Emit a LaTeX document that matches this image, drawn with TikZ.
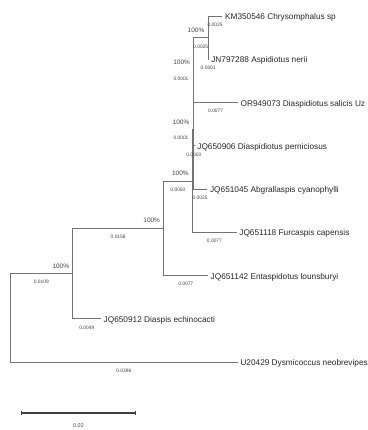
\documentclass[tikz,border=0pt]{standalone}
\usepackage{fontspec}
\setmainfont{Liberation Sans}
\usetikzlibrary{calc,arrows.meta}
\tikzset{
  branch/.style={draw=black!55, line width=0.8bp},
  leaf/.style={anchor=west, inner xsep=2.6bp, inner ysep=0pt, text height=0.716em, text depth=0pt, font=\fontsize{8.3}{9}\selectfont, text=black!85},
  boot/.style={anchor=south east, inner sep=0pt, text depth=0pt, xshift=-3.4bp, yshift=5.3bp, font=\fontsize{6.5}{7}\selectfont, text=black!75},
  blen/.style={anchor=north, inner sep=0pt, yshift=-3.3bp, text height=0.7em, font=\fontsize{4.9}{5.5}\selectfont, text=black!75},
  scalebar/.style={draw=black!75, line width=1.2bp, {Bar[width=4bp]}-{Bar[width=4bp]}}
}
\begin{document}
\begin{tikzpicture}[x=1bp,y=-1bp]
\useasboundingbox (0,0) rectangle (368,430);
% internal nodes
\coordinate (root) at (10,317.7);
\coordinate (A) at (72.7,273.5);
\coordinate (B) at (163.6,228.2);
\coordinate (C) at (192.3,180.9);
\coordinate (Q) at (192.9,129.5);
\coordinate (P) at (193.5,70.1);
\coordinate (CA) at (207.9,37.6);
% leaf ends
\coordinate (l1) at (222.3,16);
\coordinate (l2) at (208.5,59.25);
\coordinate (l3) at (237.8,102.5);
\coordinate (l4) at (194.6,145.75);
\coordinate (l5) at (207.3,189);
\coordinate (l6) at (236.6,232.25);
\coordinate (l7) at (207.9,275.5);
\coordinate (l8) at (100.9,318.75);
\coordinate (l9) at (237.7,362);
% branches
\draw[branch] (root) |- (A);
\draw[branch] (root) |- (l9);
\draw[branch] (A) |- (B);
\draw[branch] (A) |- (l8);
\draw[branch] (B) |- (C);
\draw[branch] (B) |- (l7);
\draw[branch] (C) |- (Q);
\draw[branch] (C) |- (l6);
\draw[branch] (Q) |- (P);
\draw[branch] (Q) |- (l4);
\draw[branch] (Q) |- (l5);
\draw[branch] (P) |- (CA);
\draw[branch] (P) |- (l3);
\draw[branch] (CA) |- (l1);
\draw[branch] (CA) |- (l2);
% leaf labels
\node[leaf] (t1) at (l1) {KM350546 Chrysomphalus sp};
\node[leaf] (t2) at (l2) {JN797288 Aspidiotus nerii};
\node[leaf] (t3) at (l3) {OR949073 Diaspidiotus salicis Uz};
\node[leaf] (t4) at (l4) {JQ650906 Diaspidiotus perniciosus};
\node[leaf] (t5) at (l5) {JQ651045 Abgrallaspis cyanophylli};
\node[leaf] (t6) at (l6) {JQ651118 Furcaspis capensis};
\node[leaf] (t7) at (l7) {JQ651142 Entaspidotus lounsburyi};
\node[leaf] (t8) at (l8) {JQ650912 Diaspis echinocacti};
\node[leaf] (t9) at (l9) {U20429 Dysmicoccus neobrevipes};
% bootstrap values
\node[boot] (bA) at (A) {100\%};
\node[boot] (bB) at (B) {100\%};
\node[boot] (bC) at (C) {100\%};
\node[boot] (bQ) at (Q) {100\%};
\node[boot] (bP) at (P) {100\%};
\node[boot] (bCA) at (CA) {100\%};
% branch lengths
\node[blen] (eA) at ($(root|-A)!0.5!(A)$) {0.0109};
\node[blen] (eB) at ($(A|-B)!0.5!(B)$) {0.0158};
\node[blen] (eC) at ($(B|-C)!0.5!(C)$) {0.0050};
\node[blen] (eQ) at (181,129.5) {0.0001};
\node[blen] (eP) at (181,70.1) {0.0001};
\node[blen] (eCA) at ($(P|-CA)!0.5!(CA)$) {0.0025};
\node[blen] (e1) at ($(CA|-l1)!0.5!(l1)$) {0.0025};
\node[blen] (e2) at ($(CA|-l2)!0.5!(l2)$) {0.0001};
\node[blen] (e3) at ($(P|-l3)!0.5!(l3)$) {0.0077};
\node[blen] (e4) at ($(Q|-l4)!0.5!(l4)$) {0.0003};
\node[blen] (e5) at ($(Q|-l5)!0.5!(l5)$) {0.0025};
\node[blen] (e6) at ($(C|-l6)!0.5!(l6)$) {0.0077};
\node[blen] (e7) at ($(B|-l7)!0.5!(l7)$) {0.0077};
\node[blen] (e8) at ($(A|-l8)!0.5!(l8)$) {0.0049};
\node[blen] (e9) at ($(root|-l9)!0.5!(l9)$) {0.0396};
% scale bar
\coordinate (s1) at (21,413);
\coordinate (s2) at (136,413);
\draw[scalebar] (s1) -- (s2);
\node[anchor=north, inner sep=0pt, font=\fontsize{5.5}{6}\selectfont, text=black!75] (sl) at ($(s1)!0.5!(s2)+(0,10)$) {0.02};
\end{tikzpicture}
\end{document}
